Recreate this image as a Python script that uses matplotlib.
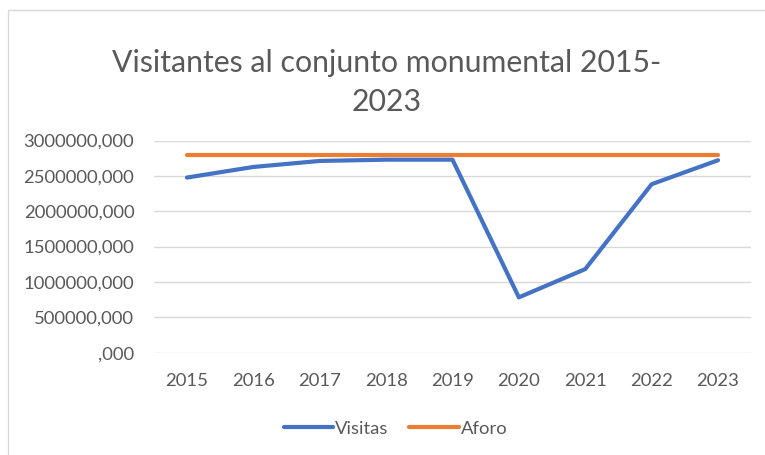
import matplotlib.pyplot as plt
from matplotlib.patches import Rectangle

years = ["2015", "2016", "2017", "2018", "2019", "2020", "2021", "2022", "2023"]
visitas = [2477000, 2627000, 2712000, 2730000, 2730000, 782000, 1182000, 2383000, 2722000]
aforo = [2800000] * 9
yticks = [0, 500000, 1000000, 1500000, 2000000, 2500000, 3000000]
ytick_labels = [",000", "500000,000", "1000000,000", "1500000,000",
                "2000000,000", "2500000,000", "3000000,000"]

plt.rcParams['font.family'] = ['Lato', 'DejaVu Sans']
grey = "#595959"

fig = plt.figure(figsize=(7.65, 4.55), dpi=100)
ax = fig.add_axes([0.201, 0.225, 0.781, 0.466])

x = range(len(years))
ax.plot(x, visitas, color="#4472C4", lw=3, label="Visitas", solid_capstyle="round")
ax.plot(x, aforo, color="#ED7D31", lw=3, label="Aforo", solid_capstyle="round")

ax.set_xlim(-0.5, len(years) - 0.5)
ax.set_ylim(0, 3000000)
ax.set_xticks(list(x))
ax.set_xticklabels(years)
ax.set_yticks(yticks)
ax.set_yticklabels(ytick_labels)
ax.tick_params(length=0, labelsize=13.3, labelcolor=grey)
ax.tick_params(axis="y", pad=14)
ax.tick_params(axis="x", pad=15)
ax.grid(axis="y", color="#D9D9D9", lw=1)
ax.set_axisbelow(True)
for s in ax.spines.values():
    s.set_visible(False)

fig.text(0.505, 0.862, "Visitantes al conjunto monumental 2015-", ha="center", va="center",
         fontsize=21.8, color=grey)
fig.text(0.505, 0.776, "2023", ha="center", va="center", fontsize=21.8, color=grey)

fig.legend(loc="center", bbox_to_anchor=(0.517, 0.058), ncol=2, frameon=False,
           fontsize=13.3, labelcolor=grey, handlelength=2.7, handletextpad=0.1,
           columnspacing=1.1)

fig.patches.append(Rectangle((0.011, -0.01), 1.0, 0.988, transform=fig.transFigure,
                             fill=False, ec="#D9D9D9", lw=1))

fig.savefig("out.png", dpi=100)
